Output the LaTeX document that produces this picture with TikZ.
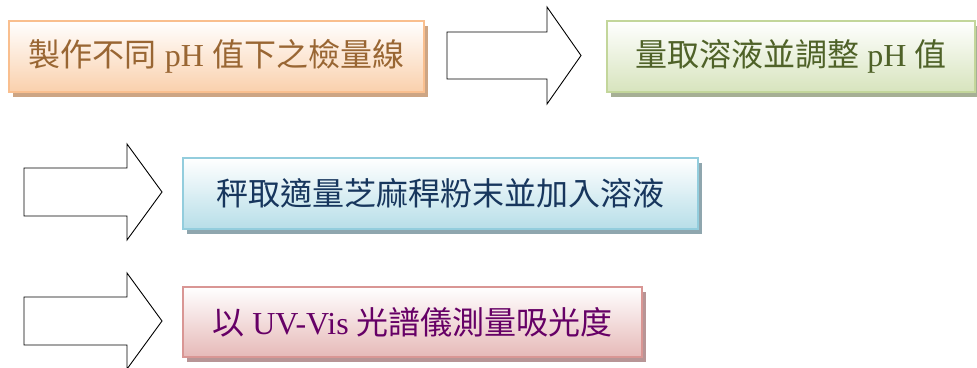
\documentclass[tikz,border=0pt]{standalone}
\usepackage{fontspec}
\setmainfont{Liberation Serif}
\newfontfamily\cjk{Noto Sans CJK TC}
\usetikzlibrary{shadows}
\definecolor{orB}{HTML}{F9BF8F}
\definecolor{orF}{HTML}{FAD0AC}
\definecolor{orT}{HTML}{996633}
\definecolor{orS}{HTML}{CDA584}
\definecolor{grB}{HTML}{C3D69B}
\definecolor{grF}{HTML}{D7E4BD}
\definecolor{grT}{HTML}{4F6228}
\definecolor{grS}{HTML}{A6AF95}
\definecolor{blB}{HTML}{93CDDD}
\definecolor{blF}{HTML}{B7DEE8}
\definecolor{blT}{HTML}{17365D}
\definecolor{blS}{HTML}{8FA6AE}
\definecolor{rdB}{HTML}{D99694}
\definecolor{rdF}{HTML}{E6B9B8}
\definecolor{rdT}{HTML}{660066}
\definecolor{rdS}{HTML}{B89596}
\tikzset{
  stepbox/.style n args={4}{draw=#1, line width=2pt, top color=white, bottom color=#2,
    text=#3, general shadow={fill=#4, shadow xshift=4pt, shadow yshift=-5pt},
    inner sep=0pt, font=\fontsize{32}{37}\selectfont},
  blockarrow/.style={draw=black, fill=white, line width=0.9pt, line join=miter}
}
\begin{document}
\begin{tikzpicture}[x=1pt,y=-1pt]
\useasboundingbox (0,0) rectangle (977,367);
% boxes
\node[stepbox={orB}{orF}{orT}{orS}, minimum width=415pt, minimum height=71pt] (b1) at (216.5,56.5)
  {{\cjk 製作不同} pH {\cjk 值下之檢量線}};
\node[stepbox={grB}{grF}{grT}{grS}, minimum width=368pt, minimum height=71pt] (b2) at (791,56.5)
  {{\cjk 量取溶液並調整} pH {\cjk 值}};
\node[stepbox={blB}{blF}{blT}{blS}, minimum width=515pt, minimum height=71pt] (b3) at (440.5,193.5)
  {\cjk 秤取適量芝麻稈粉末並加入溶液};
\node[stepbox={rdB}{rdF}{rdT}{rdS}, minimum width=459pt, minimum height=70pt] (b4) at (412.5,322)
  {{\cjk 以} UV-Vis {\cjk 光譜儀測量吸光度}};
% block arrows
\draw[blockarrow] (447,32) -- (547,32) -- (547,7) -- (581,55.5) -- (547,104) -- (547,79) -- (447,79) -- cycle;
\draw[blockarrow] (24,168) -- (127,168) -- (127,144) -- (162,192) -- (127,240) -- (127,216) -- (24,216) -- cycle;
\draw[blockarrow] (24,297) -- (127,297) -- (127,273) -- (162,321) -- (127,369) -- (127,345) -- (24,345) -- cycle;
\end{tikzpicture}
\end{document}
